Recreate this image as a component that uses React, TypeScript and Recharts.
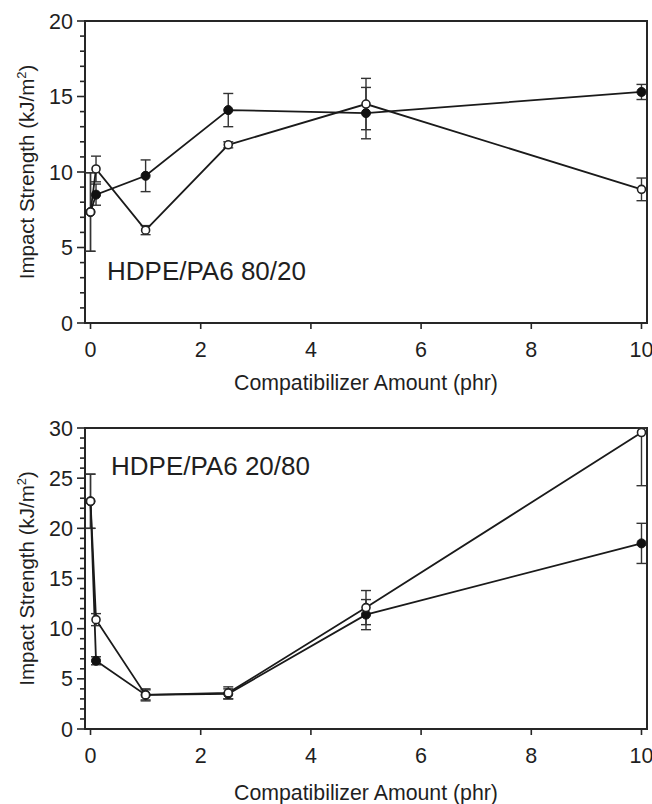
import React from 'react';
import { LineChart, Line, XAxis, YAxis, ErrorBar, ReferenceArea } from 'recharts';

// Compatibilizer amount (phr) at each measured point
const amounts = [0, 0.1, 1, 2.5, 5, 10];
const xTicks = [0, 2, 4, 6, 8, 10];

// HDPE/PA6 80/20 — impact strength (kJ/m²) and standard deviation
const blendA_filled = [7.35, 8.5, 9.75, 14.1, 13.9, 15.3];
const blendA_filledErr = [2.6, 0.7, 1.05, 1.1, 1.7, 0.5];
const blendA_open = [7.35, 10.2, 6.15, 11.8, 14.5, 8.85];
const blendA_openErr = [2.6, 0.85, 0.3, 0.2, 1.7, 0.75];
const yTicksA = [0, 1, 2, 3, 4, 5, 6, 7, 8, 9, 10, 11, 12, 13, 14, 15, 16, 17, 18, 19, 20];

// HDPE/PA6 20/80 — the last open-symbol bar is cut at the top of the frame,
// so it is given as [below, above] with the upper part ending at 30
const blendB_filled = [22.7, 6.8, 3.4, 3.5, 11.4, 18.5];
const blendB_filledErr = [2.7, 0.4, 0.5, 0.5, 1.5, 2.0];
const blendB_open = [22.7, 10.9, 3.4, 3.6, 12.1, 29.55];
const blendB_openErr: (number | number[])[] = [2.7, 0.6, 0.6, 0.6, 1.7, [5.3, 0.45]];
const yTicksB = [
  0, 1, 2, 3, 4, 5, 6, 7, 8, 9, 10, 11, 12, 13, 14, 15, 16, 17, 18, 19, 20,
  21, 22, 23, 24, 25, 26, 27, 28, 29, 30,
];

const FONT = '"Liberation Sans", Arial, Helvetica, sans-serif';
const INK = '#1f1f1f';
const AXIS = '#262626';

function buildRows(filled: number[], filledErr: any[], open: number[], openErr: any[]) {
  return amounts.map((x, i) => ({
    x,
    filled: filled[i],
    filledErr: filledErr[i],
    open: open[i],
    openErr: openErr[i],
  }));
}

function YTick(props: any) {
  const { x, y, payload } = props;
  const major = payload.value % 5 === 0;
  return (
    <g>
      <line x1={x} x2={x - (major ? 8 : 5)} y1={y} y2={y} stroke={AXIS} strokeWidth={1.6} />
      {major && (
        <text x={x - 12} y={y} dy={7.5} textAnchor="end" fontSize={21.5} fill={INK} fontFamily={FONT}>
          {payload.value}
        </text>
      )}
    </g>
  );
}

function XTick(props: any) {
  const { x, y, payload } = props;
  return (
    <g>
      <line x1={x} x2={x} y1={y} y2={y + 6} stroke={AXIS} strokeWidth={1.6} />
      <text x={x} y={y + 34} textAnchor="middle" fontSize={21.5} fill={INK} fontFamily={FONT}>
        {payload.value}
      </text>
    </g>
  );
}

function makeXTitle(offset: number) {
  return (props: any) => {
    const vb = props.viewBox || {};
    return (
      <text
        x={vb.x + vb.width / 2}
        y={vb.y + offset}
        textAnchor="middle"
        fontSize={21.3}
        fill={INK}
        fontFamily={FONT}
      >
        Compatibilizer Amount (phr)
      </text>
    );
  };
}

function YTitle(props: any) {
  const vb = props.viewBox || {};
  const cx = vb.x + 27;
  const cy = vb.y + vb.height / 2;
  return (
    <text
      x={cx}
      y={cy}
      transform={`rotate(-90 ${cx} ${cy})`}
      textAnchor="middle"
      dy={7}
      fontSize={20.5}
      fill={INK}
      fontFamily={FONT}
    >
      Impact Strength (kJ/m
      <tspan dy={-8} fontSize={13}>2</tspan>
      <tspan dy={8}>)</tspan>
    </text>
  );
}

type PanelProps = {
  rows: any[];
  yMax: number;
  yTicks: number[];
  height: number;
  marginTop: number;
  axisHeight: number;
  titleOffset: number;
};

function Panel({ rows, yMax, yTicks, height, marginTop, axisHeight, titleOffset }: PanelProps) {
  return (
    <LineChart
      width={652}
      height={height}
      data={rows}
      margin={{ top: marginTop, right: 5, bottom: 0, left: 0 }}
    >
      <XAxis
        dataKey="x"
        type="number"
        domain={[-0.1, 10.1]}
        allowDataOverflow
        ticks={xTicks}
        interval={0}
        height={axisHeight}
        axisLine={false}
        tickLine={false}
        tickSize={0}
        tickMargin={0}
        tick={XTick}
        label={makeXTitle(titleOffset)}
      />
      <YAxis
        type="number"
        domain={[0, yMax]}
        allowDataOverflow
        ticks={yTicks}
        interval={0}
        width={85}
        axisLine={false}
        tickLine={false}
        tickSize={0}
        tickMargin={0}
        tick={YTick}
        label={YTitle}
      />
      <ReferenceArea
        x1={-0.1}
        x2={10.1}
        y1={0}
        y2={yMax}
        fill="none"
        stroke={AXIS}
        strokeWidth={2}
        ifOverflow="visible"
      />
      <Line
        type="linear"
        dataKey="filled"
        stroke="#1a1a1a"
        strokeWidth={1.8}
        dot={{ r: 4.5, fill: '#111', stroke: '#111', strokeWidth: 1 }}
        activeDot={false}
        isAnimationActive={false}
      >
        <ErrorBar dataKey="filledErr" direction="y" width={5} stroke="#333" strokeWidth={1.4} isAnimationActive={false} />
      </Line>
      <Line
        type="linear"
        dataKey="open"
        stroke="#1a1a1a"
        strokeWidth={1.8}
        dot={{ r: 4, fill: '#fff', stroke: '#222', strokeWidth: 1.6 }}
        activeDot={false}
        isAnimationActive={false}
      >
        <ErrorBar dataKey="openErr" direction="y" width={5} stroke="#333" strokeWidth={1.4} isAnimationActive={false} />
      </Line>
    </LineChart>
  );
}

const labelStyle: React.CSSProperties = {
  position: 'absolute',
  fontFamily: FONT,
  fontSize: 26,
  lineHeight: '26px',
  color: INK,
  whiteSpace: 'nowrap',
};

export default function App() {
  const rowsA = buildRows(blendA_filled, blendA_filledErr, blendA_open, blendA_openErr);
  const rowsB = buildRows(blendB_filled, blendB_filledErr, blendB_open, blendB_openErr);
  return (
    <div style={{ position: 'absolute', left: 0, top: 0, width: 652, height: 804, background: '#fff' }}>
      <div style={{ position: 'absolute', left: 0, top: 0 }}>
        <Panel rows={rowsA} yMax={20} yTicks={yTicksA} height={400} marginTop={21} axisHeight={77} titleOffset={67} />
      </div>
      <div style={{ position: 'absolute', left: 0, top: 400 }}>
        <Panel rows={rowsB} yMax={30} yTicks={yTicksB} height={404} marginTop={28} axisHeight={75} titleOffset={71} />
      </div>
      <div style={{ ...labelStyle, left: 107, top: 258 }}>HDPE/PA6 80/20</div>
      <div style={{ ...labelStyle, left: 111, top: 453 }}>HDPE/PA6 20/80</div>
    </div>
  );
}
